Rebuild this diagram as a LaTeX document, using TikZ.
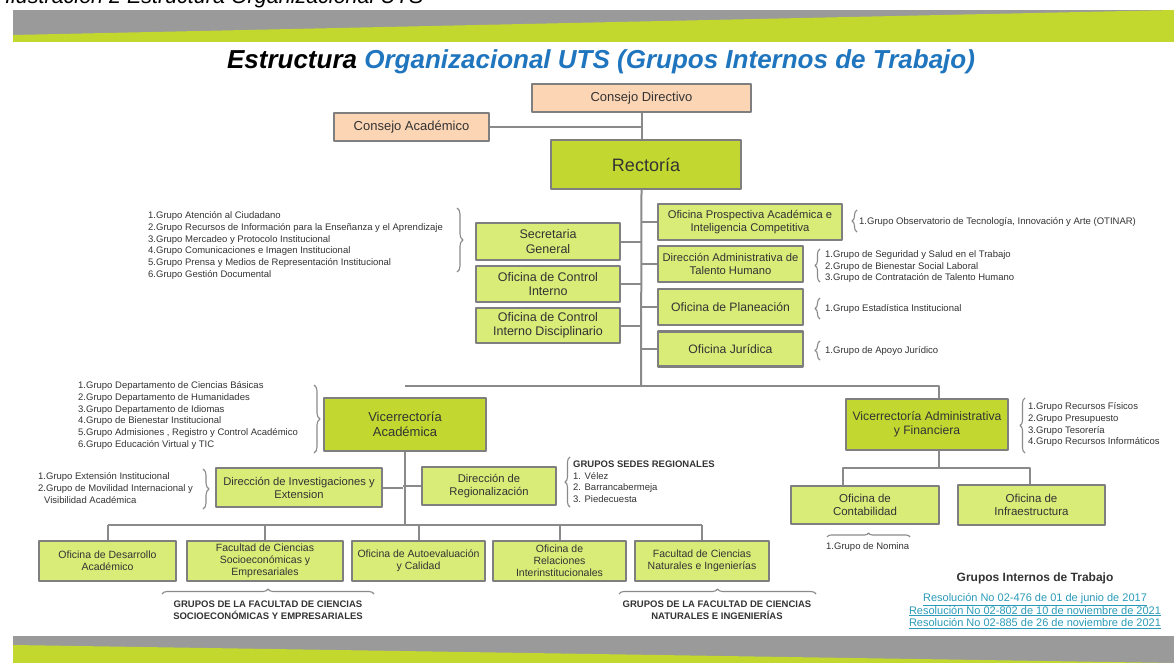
\documentclass[tikz,border=0pt]{standalone}
\usepackage{fontspec}
\setmainfont{Liberation Sans}
\usetikzlibrary{decorations.pathreplacing}
\definecolor{borde}{HTML}{7F7F7F}
\definecolor{linea}{HTML}{8A8A8A}
\definecolor{durazno}{HTML}{FCD5B5}
\definecolor{limaosc}{HTML}{C2D830}
\definecolor{limacla}{HTML}{D9EC78}
\definecolor{azultit}{HTML}{1F75BE}
\definecolor{enlace}{HTML}{2A9AB8}
\definecolor{grisbanda}{HTML}{9A9A9A}
\definecolor{verdebanda}{HTML}{C3D82F}
\definecolor{texto}{HTML}{333333}
\newcommand{\tam}[1]{\fontsize{#1}{1.15\dimexpr#1pt\relax}\selectfont}
\begin{document}
\begin{tikzpicture}[x=1pt, y=-1pt, line join=round,
  caja/.style={draw=borde, line width=2.4pt, align=center, inner sep=1pt, text=texto},
  consejo/.style={caja, fill=durazno, font=\tam{13}},
  mayor/.style={caja, fill=limaosc},
  menor/.style={caja, fill=limacla, font=\tam{11.2}},
  lista/.style={align=left, inner sep=0pt, text=texto, font=\fontsize{9.5}{11.7}\selectfont},
  llave/.style={draw=linea, line width=1.1pt, decorate, decoration={brace, amplitude=6pt}},
  conector/.style={draw=linea, line width=2pt}]
  \useasboundingbox (0,0) rectangle (1174,663);
  %% Bandas
  \fill[grisbanda] (13,10) rectangle (1174,42);
  \fill[verdebanda] (13,42) -- (13,35) -- (1174,10) -- (1174,42) -- cycle;
  \fill[grisbanda] (13,636) rectangle (1174,663);
  \fill[verdebanda] (13,663) -- (13,645) -- (1174,663) -- cycle;
  \begin{scope}
    \clip (0,0) rectangle (1174,663);
    \node[anchor=base west, inner sep=0pt, font=\itshape\tam{21.5}] (ilus) at (5,4) {Ilustración 2 Estructura Organizacional UTS};
  \end{scope}
  %% Titulo
  \node[font=\bfseries\itshape\tam{26}] (titulo) at (601,62) {Estructura \textcolor{azultit}{Organizacional UTS (Grupos Internos de Trabajo)}};
  %% Consejos y Rectoria
  \node[consejo, minimum width=219, minimum height=28] (cdir) at (641.5,98) {Consejo Directivo};
  \node[consejo, minimum width=155, minimum height=28] (cacad) at (411.5,127) {Consejo Académico};
  \node[mayor, minimum width=190, minimum height=49, font=\tam{18}] (rect) at (646,164.5) {Rectoría};
  \coordinate (t1) at (641,386);
  \draw[conector] (cdir.south) -- (cdir.south |- rect.north);
  \draw[conector] (cacad.east) -- (cacad.east -| cdir.south);
  \draw[conector] (cdir.south |- rect.south) -- (t1);
  %% Dependencias de la Rectoria
  \node[menor, minimum width=144, minimum height=37, font=\tam{12.5}] (sec) at (548,241.5) {Secretaria\\General};
  \node[menor, minimum width=144, minimum height=36, font=\tam{12.5}] (oci) at (548,284) {Oficina de Control\\Interno};
  \node[menor, minimum width=144, minimum height=35, font=\tam{12.5}] (ocid) at (548,325.5) {Oficina de Control\\Interno Disciplinario};
  \node[menor, minimum width=184, minimum height=36] (prosp) at (750,222) {Oficina Prospectiva Académica e\\Inteligencia Competitiva};
  \node[menor, minimum width=145, minimum height=36] (talento) at (730.5,264) {Dirección Administrativa de\\Talento Humano};
  \node[menor, minimum width=145, minimum height=36, font=\tam{12.2}] (plan) at (730.5,307) {Oficina de Planeación};
  \node[menor, minimum width=145, minimum height=35, font=\tam{12.2}] (jur) at (730.5,349) {Oficina Jurídica};
  \foreach \n in {sec,oci,ocid} \draw[conector] (\n.east) -- (\n.east -| t1);
  \foreach \n in {prosp,talento,plan,jur} \draw[conector] (\n.west) -- (\n.west -| t1);
  %% Grupos de la Rectoria
  \node[lista, anchor=north west] (lsec) at (148,211.5) {1.Grupo Atención al Ciudadano\\2.Grupo Recursos de Información para la Enseñanza y el Aprendizaje\\3.Grupo Mercadeo y Protocolo Institucional\\4.Grupo Comunicaciones e Imagen Institucional\\5.Grupo Prensa y Medios de Representación Institucional\\6.Grupo Gestión Documental};
  \draw[llave] (457,208) -- (457,272);
  \node[lista, anchor=west] (lprosp) at (859,222) {1.Grupo Observatorio de Tecnología, Innovación y Arte (OTINAR)};
  \draw[llave, decoration={amplitude=5pt}] (857,232) -- (857,210);
  \node[lista, anchor=north west] (ltalento) at (825,250.5) {1.Grupo de Seguridad y Salud en el Trabajo\\2.Grupo de Bienestar Social Laboral\\3.Grupo de Contratación de Talento Humano};
  \draw[llave, decoration={amplitude=5pt}] (820,282) -- (820,249);
  \node[lista, anchor=west] (lplan) at (825,309) {1.Grupo Estadística Institucional};
  \draw[llave, decoration={amplitude=5pt}] (820,319) -- (820,298);
  \node[lista, anchor=west] (ljur) at (825,351) {1.Grupo de Apoyo Jurídico};
  \draw[llave, decoration={amplitude=5pt}] (820,360) -- (820,341);
  %% Vicerrectorias
  \node[mayor, minimum width=162, minimum height=53, font=\tam{13}] (va) at (405,424.5) {Vicerrectoría\\Académica};
  \node[mayor, minimum width=162, minimum height=51, font=\tam{12.2}] (vaf) at (927,424.5) {Vicerrectoría Administrativa\\y Financiera};
  \coordinate (vafx) at (939,386);
  \draw[conector] (va.north |- t1) -- (vafx) -- (vafx |- vaf.north);
  %% Vicerrectoria Academica
  \node[lista, anchor=north west] (lva) at (78,381.5) {1.Grupo Departamento de Ciencias Básicas\\2.Grupo Departamento de Humanidades\\3.Grupo Departamento de Idiomas\\4.Grupo de Bienestar Institucional\\5.Grupo Admisiones , Registro y Control Académico\\6.Grupo Educación Virtual y TIC};
  \draw[llave] (314,385) -- (314,453);
  \node[menor, minimum width=166, minimum height=39] (inv) at (299,487.5) {Dirección de Investigaciones y\\Extension};
  \node[menor, minimum width=134, minimum height=38] (reg) at (489,486) {Dirección de\\Regionalización};
  \coordinate (t2) at (403,525);
  \draw[conector] (va.south) -- (va.south |- t2);
  \draw[conector] (inv.east) -- (inv.east -| t2);
  \draw[conector] (reg.west) -- (reg.west -| t2);
  \node[lista, anchor=north west] (linv) at (38,472.5) {1.Grupo Extensión Institucional\\2.Grupo de Movilidad Internacional y\\\hspace*{6pt}Visibilidad Académica};
  \draw[llave] (203,469) -- (203,509);
  \node[lista, anchor=north west] (lreg) at (573,460.5) {\textbf{GRUPOS SEDES REGIONALES}\\1. Vélez\\2. Barrancabermeja\\3. Piedecuesta};
  \draw[llave, decoration={amplitude=5pt}] (570,507) -- (570,457);
  %% Fila inferior
  \node[menor, minimum width=137, minimum height=40, font=\tam{10.5}] (b1) at (107.5,561) {Oficina de Desarrollo\\Académico};
  \node[menor, minimum width=156, minimum height=40, font=\tam{10.5}] (b2) at (265,561) {Facultad de Ciencias\\Socioeconómicas y\\Empresariales};
  \node[menor, minimum width=133, minimum height=40, font=\tam{10.5}] (b3) at (418.5,561) {Oficina de Autoevaluación\\y Calidad};
  \node[menor, minimum width=133, minimum height=40, font=\tam{10.5}] (b4) at (559.5,561) {Oficina de\\Relaciones\\Interinstitucionales};
  \node[menor, minimum width=134, minimum height=40, font=\tam{10.5}] (b5) at (702,561) {Facultad de Ciencias\\Naturales e Ingenierías};
  \draw[conector] (b1.north |- t2) -- (b5.north |- t2);
  \foreach \n in {b1,b2,b3,b4,b5} \draw[conector] (\n.north |- t2) -- (\n.north);
  \draw[llave, decoration={amplitude=5pt}] (162,594) -- (374,594);
  \node[align=center, inner sep=0pt, text=texto, font=\bfseries\fontsize{9.5}{11.7}\selectfont] (fcse) at (268,610) {GRUPOS DE LA FACULTAD DE CIENCIAS\\SOCIOECONÓMICAS Y EMPRESARIALES};
  \draw[llave, decoration={amplitude=5pt}] (619,594) -- (816,594);
  \node[align=center, inner sep=0pt, text=texto, font=\bfseries\fontsize{9.5}{11.7}\selectfont] (fcni) at (717,610) {GRUPOS DE LA FACULTAD DE CIENCIAS\\NATURALES E INGENIERÍAS};
  %% Vicerrectoria Administrativa y Financiera
  \node[lista, anchor=north west] (lvaf) at (1028,402.5) {1.Grupo Recursos Físicos\\2.Grupo Presupuesto\\3.Grupo Tesorería\\4.Grupo Recursos Informáticos};
  \draw[llave, decoration={amplitude=5pt}] (1025,453) -- (1025,398);
  \node[menor, minimum width=148, minimum height=38, font=\tam{11.5}] (cont) at (865,505) {Oficina de\\Contabilidad};
  \node[menor, minimum width=147, minimum height=40, font=\tam{11.5}] (infra) at (1031.5,505) {Oficina de\\Infraestructura};
  \coordinate (c1) at (843,468);
  \coordinate (c2) at (1030,468);
  \draw[conector] (vafx |- vaf.south) -- (vafx |- c1);
  \draw[conector] (c1 |- cont.north) -- (c1) -- (c2) -- (c2 |- infra.north);
  \draw[llave, decoration={amplitude=4pt}] (827,537) -- (910,537);
  \node[lista, anchor=west] (lcont) at (826,547) {1.Grupo de Nomina};
  %% Resoluciones
  \node[font=\bfseries\tam{12}, text=texto] (git) at (1035,578) {Grupos Internos de Trabajo};
  \node[align=center, inner sep=0pt, text=enlace, font=\fontsize{11}{12.8}\selectfont] (res) at (1035,611) {\underline{Resolución No 02-476 de 01 de junio de 2017}\\\underline{Resolución No 02-802 de 10 de noviembre de 2021}\\\underline{Resolución No 02-885 de 26 de noviembre de 2021}};
\end{tikzpicture}
\end{document}
